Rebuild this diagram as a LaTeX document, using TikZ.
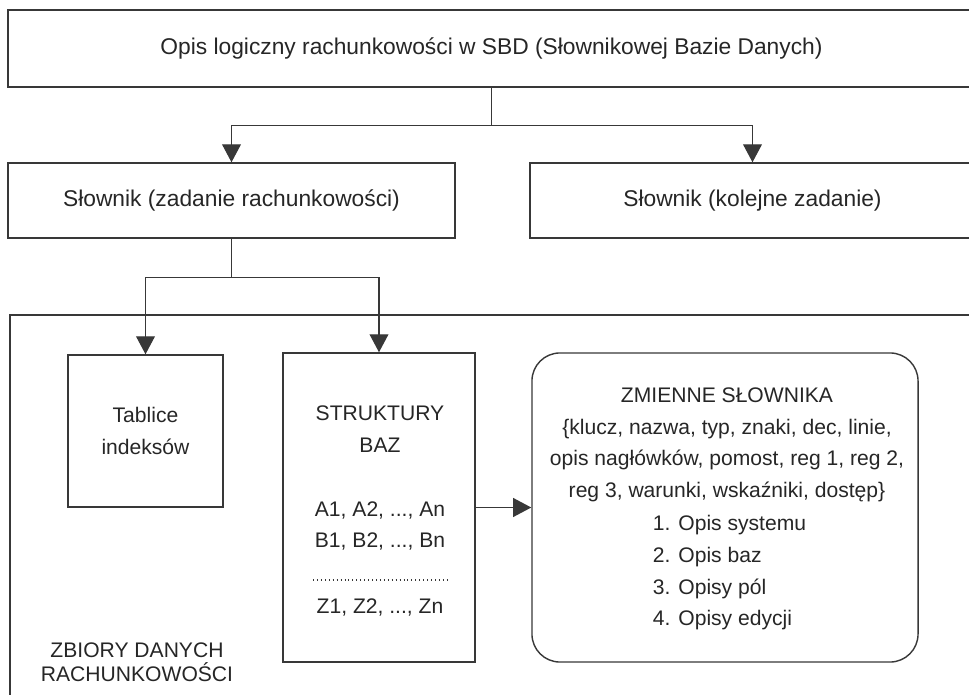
\documentclass[tikz,border=0pt]{standalone}
\usepackage{fontspec}
\setmainfont{Liberation Sans}
\usetikzlibrary{arrows.meta}
\definecolor{ink}{gray}{0.22}
\tikzset{
  box/.style={draw=ink, line width=1pt, inner sep=0pt},
  bigtext/.style={font=\fontsize{16.2}{20}\selectfont},
  smalltext/.style={font=\fontsize{15}{22.5}\selectfont, align=center},
  link/.style={draw=ink, line width=1pt},
  arr/.style={link, -{Triangle[width=0.47cm,length=0.45cm]}}
}
\begin{document}
\begin{tikzpicture}[x=0.025cm, y=-0.025cm, text=black!85]
\useasboundingbox (0,0) rectangle (969,695);
\node[box, bigtext, minimum width=24.175cm, minimum height=1.925cm] (opis) at (491.5,48.5) {Opis logiczny rachunkowości w SBD (Słownikowej Bazie Danych)};
\node[box, bigtext, minimum width=11.175cm, minimum height=1.875cm] (slownik) at (231.5,200.5) {Słownik (zadanie rachunkowości)};
\node[box, bigtext, minimum width=11.125cm, minimum height=1.875cm] (kolejne) at (752.5,200.5) {Słownik (kolejne zadanie)};
\draw[link] (opis.south) -- ++(0,38) coordinate (split);
\draw[arr] (split) -| (slownik.north);
\draw[arr] (split) -| (kolejne.north);
\draw[link] (10,700) -- (10,315) -- (975,315);
\node[box, smalltext, minimum width=3.875cm, minimum height=3.8cm] (tablice) at (145.5,431) {Tablice\\indeksów};
\node[box, minimum width=4.8cm, minimum height=7.725cm] (struktury) at (379,507.5) {};
\node[box, rounded corners=0.7cm, minimum width=9.65cm, minimum height=7.725cm] (zmienne) at (725,507.5) {};
\draw[link] (slownik.south) -- ++(0,39) coordinate (split2);
\draw[arr] (split2) -| (tablice.north);
\draw[arr] (split2) -| (struktury.north);
\draw[arr] (struktury.east) -- (zmienne.west);
\node[smalltext] (strtitle) at (380,429) {STRUKTURY\\BAZ};
\node[smalltext] (strab) at (380,526) {A1, A2, ..., An\\B1, B2, ..., Bn};
\draw[ink, line width=0.8pt, dash pattern=on 0.6pt off 2.2pt] (313,580) -- (448,580);
\node[smalltext] (strz) at (380,607) {Z1, Z2, ..., Zn};
\node[smalltext] (zmtitle) at (727,445) {ZMIENNE SŁOWNIKA\\\{klucz, nazwa, typ, znaki, dec, linie,\\opis nagłówków, pomost, reg 1, reg 2,\\reg 3, warunki, wskaźniki, dostęp\}};
\node[smalltext, align=left, anchor=west] (zmlist) at (648,573) {1. Opis systemu\\2. Opis baz\\3. Opisy pól\\4. Opisy edycji};
\node[font=\fontsize{15}{16.7}\selectfont, align=center] (zbiory) at (137,662) {ZBIORY DANYCH\\RACHUNKOWOŚCI};
\end{tikzpicture}
\end{document}
